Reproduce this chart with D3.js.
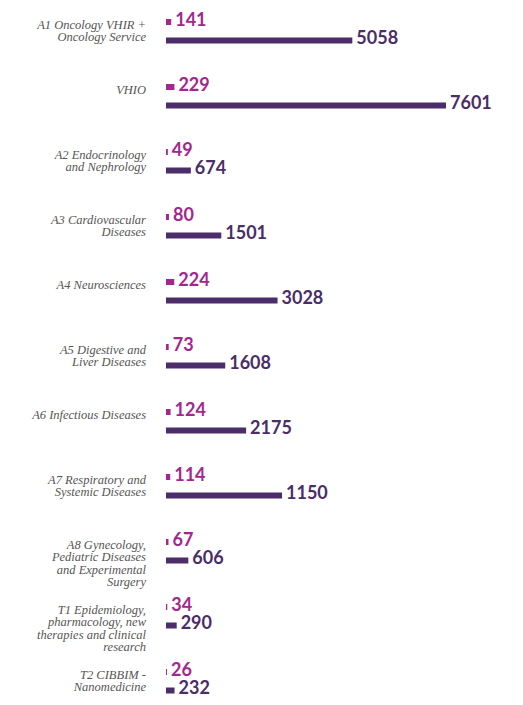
<!DOCTYPE html>
<html>
<head>
<meta charset="utf-8">
<script src="https://cdn.jsdelivr.net/npm/d3@7"></script>
<style>
  html, body { margin: 0; padding: 0; background: #fff; }
</style>
</head>
<body>
<div id="chart"></div>
<script>
// categories, one line per entry as in the picture
const categories = [
  ["A1 Oncology VHIR +", "Oncology Service"],
  ["VHIO"],
  ["A2 Endocrinology", "and Nephrology"],
  ["A3 Cardiovascular", "Diseases"],
  ["A4 Neurosciences"],
  ["A5 Digestive and", "Liver Diseases"],
  ["A6 Infectious Diseases"],
  ["A7 Respiratory and", "Systemic Diseases"],
  ["A8 Gynecology,", "Pediatric Diseases", "and Experimental", "Surgery"],
  ["T1 Epidemiology,", "pharmacology, new", "therapies and clinical", "research"],
  ["T2 CIBBIM -", "Nanomedicine"]
]
const pinkValues = [141, 229, 49, 80, 224, 73, 124, 114, 67, 34, 26]
// bar lengths as drawn (the A7 bar is drawn longer than its label says)
const purpleValues = [5058, 7601, 674, 1501, 3028, 1608, 2175, 3150, 606, 290, 232]
const purpleLabels = ["5058", "7601", "674", "1501", "3028", "1608", "2175", "1150", "606", "290", "232"]

const width = 523
const height = 705
const pink = "#a4268f"
const purple = "#4a2d69"

const svg = d3.select("#chart")
  .append("svg")
  .attr("width", width)
  .attr("height", height)
  .attr("viewBox", [0, 0, width, height])
  .style("display", "block")

const I = d3.range(categories.length)

const x = d3.scaleLinear()
  .domain([0, d3.max(purpleValues)])
  .range([166, 446])

const y = d3.scaleBand()
  .domain(I)
  .range([8, 8 + 65 * I.length])

const row = svg.selectAll(".row")
  .data(I)
  .join("g")
  .attr("class", "row")
  .attr("transform", i => `translate(0,${y(i)})`)

// category labels
row.append("text")
  .attr("text-anchor", "end")
  .attr("fill", "#555")
  .style("font-family", "'Liberation Serif', serif")
  .style("font-style", "italic")
  .style("font-size", "12.5px")
  .selectAll("tspan")
  .data(i => categories[i])
  .join("tspan")
  .attr("x", 146)
  .attr("y", (d, j) => 20.5 + j * 12.5)
  .text(d => d)

// pink bars
row.append("rect")
  .attr("x", x(0))
  .attr("y", 11)
  .attr("height", 6)
  .attr("width", i => x(pinkValues[i]) - x(0))
  .attr("fill", pink)

row.append("text")
  .attr("x", i => x(pinkValues[i]) + 4)
  .attr("y", 17.5)
  .attr("fill", pink)
  .style("font-family", "Lato, sans-serif")
  .style("font-weight", 700)
  .style("font-size", "18px")
  .text(i => pinkValues[i])

// purple bars
row.append("rect")
  .attr("x", x(0))
  .attr("y", 29.5)
  .attr("height", 6)
  .attr("width", i => x(purpleValues[i]) - x(0))
  .attr("fill", purple)

row.append("text")
  .attr("x", i => x(purpleValues[i]) + 4)
  .attr("y", 36)
  .attr("fill", purple)
  .style("font-family", "Lato, sans-serif")
  .style("font-weight", 700)
  .style("font-size", "18px")
  .text(i => purpleLabels[i])
</script>
</body>
</html>
